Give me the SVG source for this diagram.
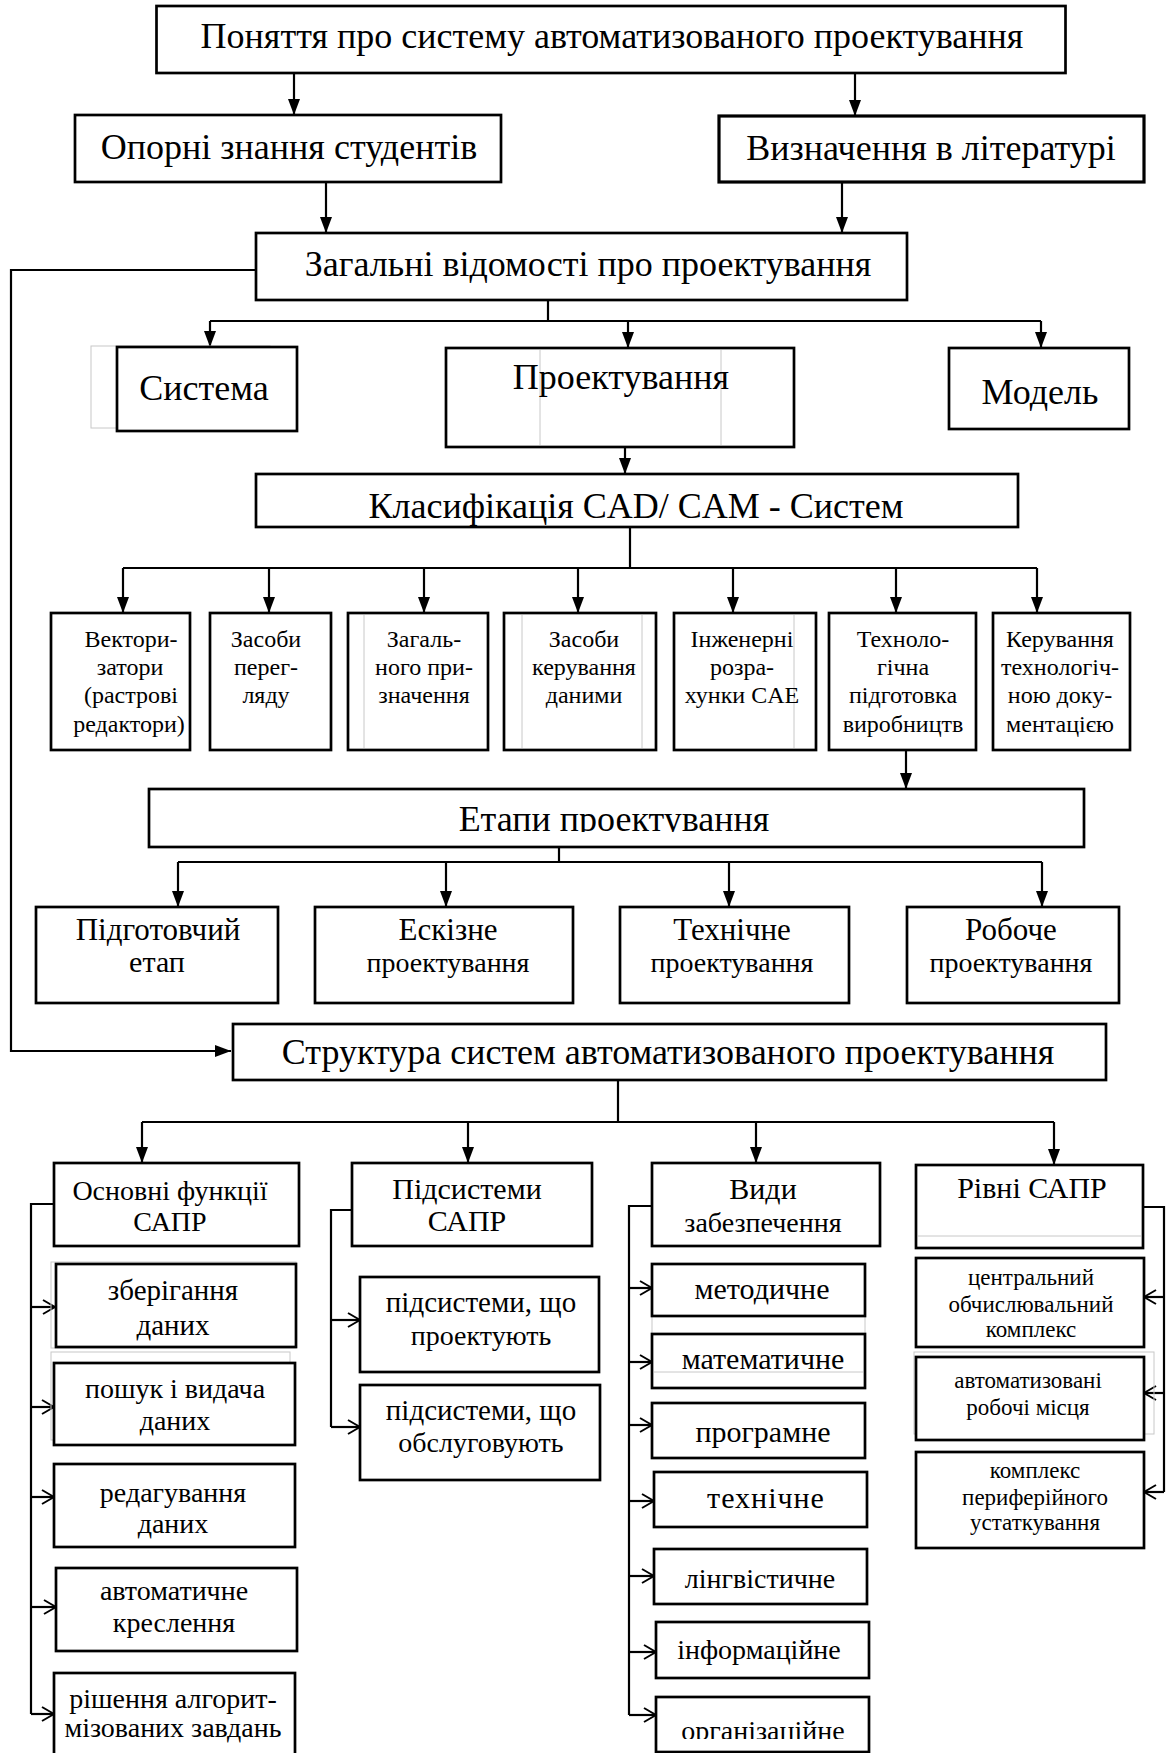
<svg xmlns="http://www.w3.org/2000/svg" width="1166" height="1753" viewBox="0 0 1166 1753">
<defs>
<style>
.box{fill:#fff;stroke:#000;stroke-width:2.7}
.ghost{fill:none;stroke:#c8c8c8;stroke-width:1}
.ln{fill:none;stroke:#000;stroke-width:2.2}
.t{font-family:"Liberation Serif","Times New Roman",serif;text-anchor:middle;fill:#000}
.f36{font-size:36px}
.f24{font-size:24px}
.f28{font-size:28px}
.f29{font-size:29px}
.f30{font-size:30px}
.f31{font-size:31px}
.f23{font-size:23px}
</style>
<clipPath id="cEtapy"><rect x="149" y="789" width="935" height="43"/></clipPath>
<clipPath id="cOrg"><rect x="656" y="1697" width="213" height="42"/></clipPath>
<marker id="fr" viewBox="0 0 16 12" refX="16" refY="6" markerWidth="16" markerHeight="12" markerUnits="userSpaceOnUse" orient="auto">
<path d="M0,0 L16,6 L0,12 z" fill="#000"/>
</marker>
<marker id="oa" viewBox="0 0 14 16" refX="13" refY="8" markerWidth="14" markerHeight="16" markerUnits="userSpaceOnUse" orient="auto">
<path d="M1,1 L13,8 L1,15" fill="none" stroke="#000" stroke-width="2"/>
</marker>
</defs>

<g id="connectors">
<path class="ln" d="M294,73 V115" marker-end="url(#fr)"/>
<path class="ln" d="M855,73 V116" marker-end="url(#fr)"/>
<path class="ln" d="M326,182 V233" marker-end="url(#fr)"/>
<path class="ln" d="M842,182 V233" marker-end="url(#fr)"/>
<path class="ln" d="M256,270 H11 V1051 H231" marker-end="url(#fr)"/>
<path class="ln" d="M548,300 V321 M210,321 H1041"/>
<path class="ln" d="M210,321 V347" marker-end="url(#fr)"/>
<path class="ln" d="M628,321 V348" marker-end="url(#fr)"/>
<path class="ln" d="M1041,321 V348" marker-end="url(#fr)"/>
<path class="ln" d="M625,447 V474" marker-end="url(#fr)"/>
<path class="ln" d="M630,527 V568 M123,568 H1037"/>
<path class="ln" d="M123,568 V613" marker-end="url(#fr)"/>
<path class="ln" d="M269,568 V613" marker-end="url(#fr)"/>
<path class="ln" d="M424,568 V613" marker-end="url(#fr)"/>
<path class="ln" d="M578,568 V613" marker-end="url(#fr)"/>
<path class="ln" d="M733,568 V613" marker-end="url(#fr)"/>
<path class="ln" d="M896,568 V613" marker-end="url(#fr)"/>
<path class="ln" d="M1037,568 V613" marker-end="url(#fr)"/>
<path class="ln" d="M906,750 V789" marker-end="url(#fr)"/>
<path class="ln" d="M559,847 V862 M178,862 H1042"/>
<path class="ln" d="M178,862 V907" marker-end="url(#fr)"/>
<path class="ln" d="M446,862 V907" marker-end="url(#fr)"/>
<path class="ln" d="M729,862 V907" marker-end="url(#fr)"/>
<path class="ln" d="M1042,862 V907" marker-end="url(#fr)"/>
<path class="ln" d="M618,1080 V1122 M142,1122 H1054"/>
<path class="ln" d="M142,1122 V1163" marker-end="url(#fr)"/>
<path class="ln" d="M468,1122 V1163" marker-end="url(#fr)"/>
<path class="ln" d="M756,1122 V1163" marker-end="url(#fr)"/>
<path class="ln" d="M1054,1122 V1165" marker-end="url(#fr)"/>
<path class="ln" d="M53,1204 H31 V1714"/>
<path class="ln" d="M31,1307 H55" marker-end="url(#oa)"/>
<path class="ln" d="M31,1407 H54" marker-end="url(#oa)"/>
<path class="ln" d="M31,1497 H54" marker-end="url(#oa)"/>
<path class="ln" d="M31,1607 H56" marker-end="url(#oa)"/>
<path class="ln" d="M31,1714 H54" marker-end="url(#oa)"/>
<path class="ln" d="M352,1210 H331 V1427"/>
<path class="ln" d="M331,1320 H360" marker-end="url(#oa)"/>
<path class="ln" d="M331,1427 H360" marker-end="url(#oa)"/>
<path class="ln" d="M652,1206 H629 V1715"/>
<path class="ln" d="M629,1288 H652" marker-end="url(#oa)"/>
<path class="ln" d="M629,1362 H652" marker-end="url(#oa)"/>
<path class="ln" d="M629,1425 H652" marker-end="url(#oa)"/>
<path class="ln" d="M629,1501 H654" marker-end="url(#oa)"/>
<path class="ln" d="M629,1576 H654" marker-end="url(#oa)"/>
<path class="ln" d="M629,1652 H656" marker-end="url(#oa)"/>
<path class="ln" d="M629,1715 H656" marker-end="url(#oa)"/>
<path class="ln" d="M1143,1207 H1164 V1492"/>
<path class="ln" d="M1164,1297 H1144" marker-end="url(#oa)"/>
<path class="ln" d="M1164,1393 H1144" marker-end="url(#oa)"/>
<path class="ln" d="M1164,1492 H1144" marker-end="url(#oa)"/>
</g>

<g id="n-title"><rect class="box" x="156.5" y="6" width="909" height="67"/><text class="t f36" x="612" y="48">Поняття про систему автоматизованого проектування</text></g>
<g id="n-oporni"><rect class="box" x="75" y="115" width="426" height="67"/><text class="t f36" x="289" y="159">Опорні знання студентів</text></g>
<g id="n-vyznach"><rect class="box" x="719" y="116" width="425" height="66" style="stroke-width:3.2"/><text class="t f36" x="931" y="160">Визначення в літературі</text></g>
<g id="n-zagalni"><rect class="box" x="256" y="233" width="651" height="67"/><text class="t f36" x="588" y="276">Загальні відомості про проектування</text></g>
<g id="n-systema"><rect class="ghost" x="91" y="346" width="179" height="82"/><rect class="box" x="117" y="347" width="180" height="84"/><text class="t f36" x="204" y="400">Система</text></g>
<g id="n-proekt"><rect class="box" x="446" y="348" width="348" height="99"/><path class="ghost" d="M540,350 V445 M721,350 V445"/><text class="t f36" x="621" y="389">Проектування</text></g>
<g id="n-model"><rect class="box" x="949" y="348" width="180" height="81"/><text class="t f36" x="1040" y="404">Модель</text></g>
<g id="n-klas"><rect class="box" x="256" y="474" width="762" height="53"/><text class="t f36" x="636" y="518">Класифікація CAD/ CAM - Систем</text></g>

<g id="n-vect"><rect class="box" x="51" y="613" width="139" height="137"/><text class="t f24" x="131" y="647">Вектори-</text><text class="t f24" x="130" y="675">затори</text><text class="t f24" x="131" y="703">(растрові</text><text class="t f24" x="129" y="732">редактори)</text></g>
<g id="n-zasoby"><rect class="box" x="210" y="613" width="121" height="137"/><text class="t f24" x="266" y="647">Засоби</text><text class="t f24" x="266" y="675">перег-</text><text class="t f24" x="266" y="703">ляду</text></g>
<g id="n-zagal"><rect class="box" x="348" y="613" width="140" height="137"/><path class="ghost" d="M364,615 V748"/><text class="t f24" x="424" y="647">Загаль-</text><text class="t f24" x="424" y="675">ного при-</text><text class="t f24" x="424" y="703">значення</text></g>
<g id="n-keruv"><rect class="box" x="504" y="613" width="152" height="137"/><path class="ghost" d="M522,615 V748 M642,615 V748"/><text class="t f24" x="584" y="647">Засоби</text><text class="t f24" x="584" y="675">керування</text><text class="t f24" x="584" y="703">даними</text></g>
<g id="n-inzh"><rect class="box" x="674" y="613" width="142" height="137"/><path class="ghost" d="M794,615 V748"/><text class="t f24" x="742" y="647">Інженерні</text><text class="t f24" x="742" y="675">розра-</text><text class="t f24" x="742" y="703">хунки CAE</text></g>
<g id="n-tekhn"><rect class="box" x="829" y="613" width="147" height="137"/><text class="t f24" x="903" y="647">Техноло-</text><text class="t f24" x="903" y="675">гічна</text><text class="t f24" x="903" y="703">підготовка</text><text class="t f24" x="903" y="732">виробництв</text></g>
<g id="n-kertech"><rect class="box" x="993" y="613" width="137" height="137"/><text class="t f24" x="1060" y="647">Керування</text><text class="t f24" x="1060" y="675">технологіч-</text><text class="t f24" x="1060" y="703">ною доку-</text><text class="t f24" x="1060" y="732">ментацією</text></g>

<g id="n-etapy"><rect class="box" x="149" y="789" width="935" height="58"/><text class="t f36" x="614" y="831" clip-path="url(#cEtapy)">Етапи проектування</text></g>
<g id="n-pidg"><rect class="box" x="36" y="907" width="242" height="96"/><text class="t f31" x="158" y="940">Підготовчий</text><text class="t f30" x="157" y="972">етап</text></g>
<g id="n-eskiz"><rect class="box" x="315" y="907" width="258" height="96"/><text class="t f31" x="448" y="940">Ескізне</text><text class="t f28" x="448" y="972">проектування</text></g>
<g id="n-tekhproekt"><rect class="box" x="620" y="907" width="229" height="96"/><text class="t f31" x="732" y="940">Технічне</text><text class="t f28" x="732" y="972">проектування</text></g>
<g id="n-roboche"><rect class="box" x="907" y="907" width="212" height="96"/><text class="t f31" x="1011" y="940">Робоче</text><text class="t f28" x="1011" y="972">проектування</text></g>

<g id="n-struct"><rect class="box" x="233" y="1024" width="873" height="56"/><text class="t f36" x="668" y="1064">Структура систем автоматизованого проектування</text></g>

<g id="n-osn"><rect class="box" x="54" y="1163" width="245" height="83"/><text class="t f28" x="170" y="1200">Основні функції</text><text class="t f28" x="170" y="1231">САПР</text></g>
<g id="n-zber"><rect class="ghost" x="51" y="1262" width="245" height="86"/><rect class="box" x="56" y="1264" width="240" height="83"/><text class="t f29" x="173" y="1300">зберігання</text><text class="t f29" x="173" y="1335">даних</text></g>
<g id="n-poshuk"><rect class="ghost" x="51" y="1352" width="239" height="88"/><rect class="box" x="54" y="1363" width="241" height="82"/><text class="t f28" x="175" y="1398">пошук і видача</text><text class="t f28" x="175" y="1430">даних</text></g>
<g id="n-redag"><rect class="box" x="54" y="1464" width="241" height="83"/><text class="t f28" x="173" y="1502">редагування</text><text class="t f28" x="173" y="1533">даних</text></g>
<g id="n-avtokr"><rect class="box" x="56" y="1568" width="241" height="83"/><text class="t f28" x="174" y="1600">автоматичне</text><text class="t f28" x="174" y="1632">креслення</text></g>
<g id="n-rishen"><rect class="box" x="54" y="1673" width="241" height="90"/><text class="t f28" x="173" y="1708">рішення алгорит-</text><text class="t f28" x="173" y="1737">мізованих завдань</text></g>

<g id="n-pidsys"><rect class="box" x="352" y="1163" width="240" height="83"/><text class="t f30" x="467" y="1199">Підсистеми</text><text class="t f30" x="467" y="1231">САПР</text></g>
<g id="n-proektuyut"><rect class="box" x="360" y="1277" width="239" height="95"/><text class="t f29" x="481" y="1312">підсистеми, що</text><text class="t f28" x="481" y="1345">проектують</text></g>
<g id="n-obsl"><rect class="box" x="360" y="1385" width="240" height="95"/><text class="t f29" x="481" y="1420">підсистеми, що</text><text class="t f28" x="481" y="1452">обслуговують</text></g>

<g id="n-vydy"><rect class="box" x="652" y="1163" width="228" height="83"/><text class="t f30" x="763" y="1199">Види</text><text class="t f28" x="763" y="1232">забезпечення</text></g>
<g id="n-metod"><rect class="ghost" x="652" y="1316" width="213" height="18"/><rect class="box" x="652" y="1264" width="213" height="52"/><text class="t f30" x="762" y="1299">методичне</text></g>
<g id="n-matem"><rect class="box" x="652" y="1334" width="213" height="54"/><path class="ghost" d="M654,1372 H863"/><text class="t f30" x="763" y="1369">математичне</text></g>
<g id="n-prog"><rect class="box" x="652" y="1403" width="213" height="55"/><text class="t f30" x="763" y="1442">програмне</text></g>
<g id="n-tekhnichne"><rect class="box" x="654" y="1472" width="213" height="55"/><text class="t f30" x="766" y="1508" style="letter-spacing:1px">технічне</text></g>
<g id="n-ling"><rect class="box" x="654" y="1549" width="213" height="55"/><text class="t f28" x="760" y="1588">лінгвістичне</text></g>
<g id="n-inform"><rect class="box" x="656" y="1622" width="213" height="56"/><text class="t f28" x="759" y="1659">інформаційне</text></g>
<g id="n-org"><rect class="box" x="656" y="1697" width="213" height="55"/><text class="t f28" x="763" y="1740" clip-path="url(#cOrg)">організаційне</text></g>

<g id="n-rivni"><rect class="box" x="916" y="1165" width="227" height="83"/><path class="ghost" d="M918,1236 H1141"/><text class="t f30" x="1032" y="1198">Рівні САПР</text></g>
<g id="n-central"><rect class="box" x="916" y="1258" width="228" height="89"/><text class="t f23" x="1031" y="1285">центральний</text><text class="t f23" x="1031" y="1312">обчислювальний</text><text class="t f23" x="1031" y="1337">комплекс</text></g>
<g id="n-arm"><rect class="ghost" x="914" y="1352" width="240" height="82"/><rect class="box" x="916" y="1357" width="228" height="83"/><text class="t f23" x="1028" y="1388">автоматизовані</text><text class="t f23" x="1028" y="1415">робочі місця</text></g>
<g id="n-perif"><rect class="box" x="916" y="1452" width="228" height="96"/><text class="t f23" x="1035" y="1478">комплекс</text><text class="t f23" x="1035" y="1505">периферійного</text><text class="t f23" x="1035" y="1530">устаткування</text></g>
</svg>
